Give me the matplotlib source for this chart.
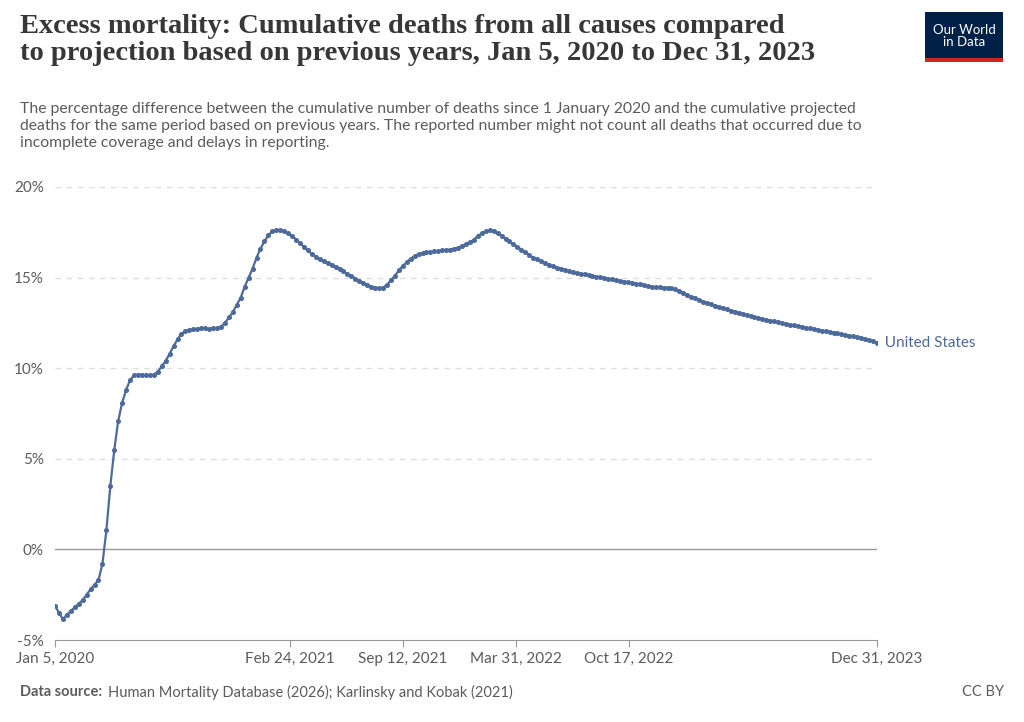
import numpy as np
import pandas as pd
import matplotlib
matplotlib.use("Agg")
import matplotlib.pyplot as plt
import matplotlib.dates as mdates
from matplotlib.patches import Rectangle

plt.rcParams['font.family'] = ['Lato', 'DejaVu Sans']

# weekly cumulative excess mortality (%), United States
dates = pd.date_range('2020-01-05', periods=209, freq='7D')
values = [
    -3.1, -3.5, -3.85, -3.6, -3.4, -3.2, -3.0, -2.8, -2.5, -2.2,
    -1.95, -1.7, -0.8, 1.05, 3.5, 5.5, 7.1, 8.1, 8.8, 9.35,
    9.6, 9.65, 9.65, 9.6, 9.6, 9.65, 9.8, 10.1, 10.4, 10.8,
    11.2, 11.6, 11.9, 12.05, 12.1, 12.15, 12.15, 12.2, 12.2, 12.15,
    12.2, 12.2, 12.3, 12.5, 12.8, 13.1, 13.5, 13.9, 14.5, 15.0,
    15.5, 16.1, 16.6, 17.0, 17.35, 17.55, 17.6, 17.6, 17.55, 17.45,
    17.3, 17.1, 16.9, 16.7, 16.5, 16.3, 16.15, 16.0, 15.9, 15.8,
    15.7, 15.6, 15.5, 15.35, 15.2, 15.1, 14.95, 14.8, 14.7, 14.6,
    14.5, 14.45, 14.4, 14.45, 14.6, 14.85, 15.1, 15.4, 15.65, 15.85,
    16.05, 16.2, 16.3, 16.35, 16.4, 16.4, 16.45, 16.45, 16.5, 16.5,
    16.55, 16.6, 16.65, 16.75, 16.85, 16.95, 17.1, 17.3, 17.45, 17.55,
    17.6, 17.55, 17.45, 17.3, 17.15, 17.0, 16.85, 16.7, 16.55, 16.4,
    16.25, 16.1, 16.0, 15.9, 15.8, 15.7, 15.62, 15.55, 15.5, 15.42,
    15.36, 15.3, 15.25, 15.22, 15.18, 15.14, 15.1, 15.06, 15.02, 14.98,
    14.94, 14.9, 14.86, 14.82, 14.78, 14.74, 14.7, 14.66, 14.62, 14.58,
    14.54, 14.5, 14.48, 14.46, 14.45, 14.44, 14.42, 14.35, 14.25, 14.15,
    14.05, 13.95, 13.85, 13.76, 13.68, 13.6, 13.52, 13.45, 13.38, 13.31,
    13.24, 13.18, 13.12, 13.06, 13.0, 12.94, 12.88, 12.83, 12.78, 12.73,
    12.68, 12.63, 12.58, 12.53, 12.48, 12.44, 12.4, 12.36, 12.32, 12.28,
    12.24, 12.2, 12.16, 12.12, 12.08, 12.04, 12.0, 11.96, 11.92, 11.88,
    11.84, 11.8, 11.76, 11.72, 11.67, 11.62, 11.55, 11.48, 11.4,
]
tick_dates = ['2020-01-05', '2021-02-24', '2021-09-12', '2022-03-31', '2022-10-17', '2023-12-31']
tick_labels = ['Jan 5, 2020', 'Feb 24, 2021', 'Sep 12, 2021', 'Mar 31, 2022', 'Oct 17, 2022', 'Dec 31, 2023']
y_ticks = [-5, 0, 5, 10, 15, 20]

W, H = 1024, 722
fig = plt.figure(figsize=(W / 100, H / 100), dpi=100)
ax = fig.add_axes([55 / W, 1 - 640 / H, (877 - 55) / W, (640 - 187) / H])

color = '#4c6a9c'
grey = '#5b5b5b'
ax.plot(dates, values, color=color, lw=1.6, marker='o', ms=2.6, zorder=3)
ax.set_xlim(dates[0], dates[-1])
ax.set_ylim(-5, 20)
ax.set_yticks(y_ticks)
ax.set_yticklabels([f'{v}%' for v in y_ticks])
ax.set_xticks([pd.Timestamp(d) for d in tick_dates])
ax.set_xticklabels(tick_labels)
for v in y_ticks:
    if v == 0:
        ax.axhline(0, color='#9a9a9a', lw=1, zorder=1)
    elif v != -5:
        ax.axhline(v, color='#dddddd', lw=1, ls=(0, (4, 4)), zorder=1)
for s in ['top', 'right', 'left']:
    ax.spines[s].set_visible(False)
ax.spines['bottom'].set_color('#999999')
ax.tick_params(axis='y', length=0, labelsize=11, labelcolor=grey, pad=8)
ax.tick_params(axis='x', length=5, color='#999999', labelsize=11, labelcolor=grey)
ax.text(dates[-1], values[-1], '  United States', color=color, fontsize=11,
        va='center', ha='left', clip_on=False)

fig.text(20 / W, 1 - 40 / H, 'Excess mortality: Cumulative deaths from all causes compared\n'
         'to projection based on previous years, Jan 5, 2020 to Dec 31, 2023',
         family=['Liberation Serif', 'DejaVu Serif'], fontsize=20.5, fontweight='bold',
         color='#373737', va='center', linespacing=1.15)
fig.text(20 / W, 1 - 126 / H, 'The percentage difference between the cumulative number of deaths since 1 January 2020 and the cumulative projected\n'
         'deaths for the same period based on previous years. The reported number might not count all deaths that occurred due to\n'
         'incomplete coverage and delays in reporting.', fontsize=11.3, color=grey, va='center', linespacing=1.3)
fig.text(20 / W, 1 - 692 / H, 'Data source:', fontsize=10.5, color=grey, fontweight='bold', va='center')
fig.text(108 / W, 1 - 692 / H, 'Human Mortality Database (2026); Karlinsky and Kobak (2021)',
         fontsize=10.5, color=grey, va='center')
fig.text(1004 / W, 1 - 692 / H, 'CC BY', fontsize=10.5, color=grey, va='center', ha='right')

# logo
fig.patches.append(Rectangle((925 / W, 1 - 58 / H), 78 / W, 46 / H, transform=fig.transFigure,
                             facecolor='#002147', edgecolor='none'))
fig.patches.append(Rectangle((925 / W, 1 - 62 / H), 78 / W, 4 / H, transform=fig.transFigure,
                             facecolor='#ce261e', edgecolor='none'))
fig.text(964 / W, 1 - 36 / H, 'Our World\nin Data', color='white', fontsize=9.5,
         ha='center', va='center', linespacing=1.0)

fig.savefig('out.png', dpi=100)
